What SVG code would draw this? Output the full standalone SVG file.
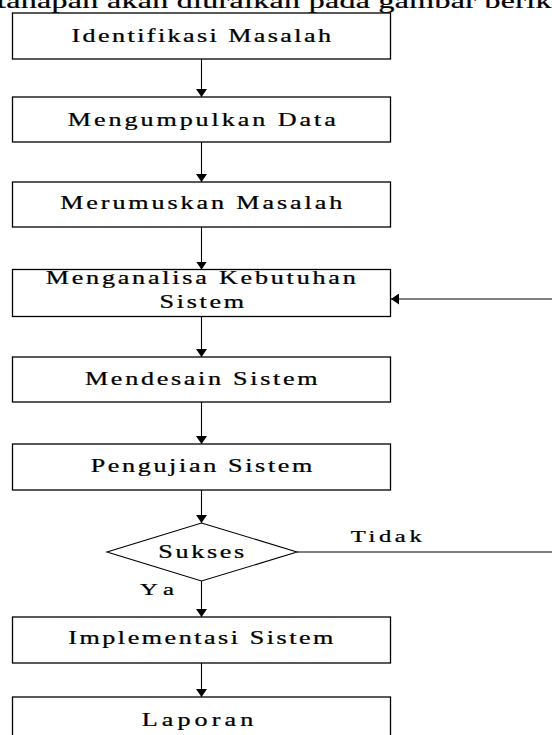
<svg xmlns="http://www.w3.org/2000/svg" width="552" height="735" viewBox="0 0 552 735">
<style>
text{font-family:"Liberation Serif","Times New Roman",serif;fill:#000;text-anchor:middle;stroke:#000;stroke-width:0.25}
.t{font-size:18px}
.box{fill:#fff;stroke:#000;stroke-width:1.3}
.ln{fill:none;stroke:#000;stroke-width:1.1}
</style>
<defs>
<marker id="ah" viewBox="0 0 8 11" refX="8" refY="5.5" markerWidth="8" markerHeight="11" markerUnits="userSpaceOnUse" orient="auto">
<path d="M0,0 L8,5.5 L0,11 z" fill="#000"/>
</marker>
</defs>
<rect width="552" height="735" fill="#fff"/>
<text transform="translate(287,7.5) scale(1.45,1)" font-size="22" textLength="400" lengthAdjust="spacing">tahapan akan diuraikan pada gambar berikut</text>
<g id="connectors">
<line class="ln" x1="201.5" y1="59" x2="201.5" y2="97" marker-end="url(#ah)"/>
<line class="ln" x1="201.5" y1="142" x2="201.5" y2="182" marker-end="url(#ah)"/>
<line class="ln" x1="201.5" y1="227" x2="201.5" y2="269.5" marker-end="url(#ah)"/>
<line class="ln" x1="201.5" y1="316.5" x2="201.5" y2="357" marker-end="url(#ah)"/>
<line class="ln" x1="201.5" y1="402" x2="201.5" y2="444" marker-end="url(#ah)"/>
<line class="ln" x1="201.5" y1="490" x2="201.5" y2="523" marker-end="url(#ah)"/>
<line class="ln" x1="201.5" y1="581" x2="201.5" y2="617" marker-end="url(#ah)"/>
<line class="ln" x1="201.5" y1="663" x2="201.5" y2="697" marker-end="url(#ah)"/>
<path class="ln" d="M297,552 H560 V299 H391" marker-end="url(#ah)"/>
<text transform="translate(386.2,541.7) scale(1.45,1)" font-size="17" textLength="49" lengthAdjust="spacing">Tidak</text>
<text transform="translate(157,594.5) scale(1.45,1)" font-size="17" textLength="23.4" lengthAdjust="spacing">Ya</text>
</g>
<g id="n1"><rect class="box" x="12.5" y="13" width="378" height="46"/><text class="t" transform="translate(201.3,42) scale(1.45,1)" textLength="179" lengthAdjust="spacing">Identifikasi Masalah</text></g>
<g id="n2"><rect class="box" x="12.5" y="97" width="378" height="45"/><text class="t" transform="translate(201.8,125.7) scale(1.45,1)" textLength="184.8" lengthAdjust="spacing">Mengumpulkan Data</text></g>
<g id="n3"><rect class="box" x="12.5" y="182" width="378" height="45"/><text class="t" transform="translate(201.2,209.3) scale(1.45,1)" textLength="194.5" lengthAdjust="spacing">Merumuskan Masalah</text></g>
<g id="n4"><rect class="box" x="12.5" y="269.5" width="378" height="47"/><text class="t" transform="translate(200.7,284) scale(1.45,1)" textLength="213.8" lengthAdjust="spacing">Menganalisa Kebutuhan</text><text class="t" transform="translate(201.8,308) scale(1.45,1)" textLength="58.3" lengthAdjust="spacing">Sistem</text></g>
<g id="n5"><rect class="box" x="12.5" y="357" width="378" height="45"/><text class="t" transform="translate(201.3,385) scale(1.45,1)" textLength="160.5" lengthAdjust="spacing">Mendesain Sistem</text></g>
<g id="n6"><rect class="box" x="12.5" y="444" width="378" height="46"/><text class="t" transform="translate(201.5,471.7) scale(1.45,1)" textLength="152.9" lengthAdjust="spacing">Pengujian Sistem</text></g>
<g id="n7"><polygon class="box" points="201.5,523 297,552 201.5,581 107,552" style="stroke-width:1.1"/><text class="t" transform="translate(201.3,557.7) scale(1.45,1)" textLength="59.3" lengthAdjust="spacing">Sukses</text></g>
<g id="n8"><rect class="box" x="12.5" y="617" width="378" height="46"/><text class="t" transform="translate(200.8,644.3) scale(1.45,1)" textLength="182.8" lengthAdjust="spacing">Implementasi Sistem</text></g>
<g id="n9"><rect class="box" x="12.5" y="697" width="378" height="46"/><text class="t" transform="translate(197.5,726) scale(1.45,1)" textLength="77" lengthAdjust="spacing">Laporan</text></g>
</svg>
